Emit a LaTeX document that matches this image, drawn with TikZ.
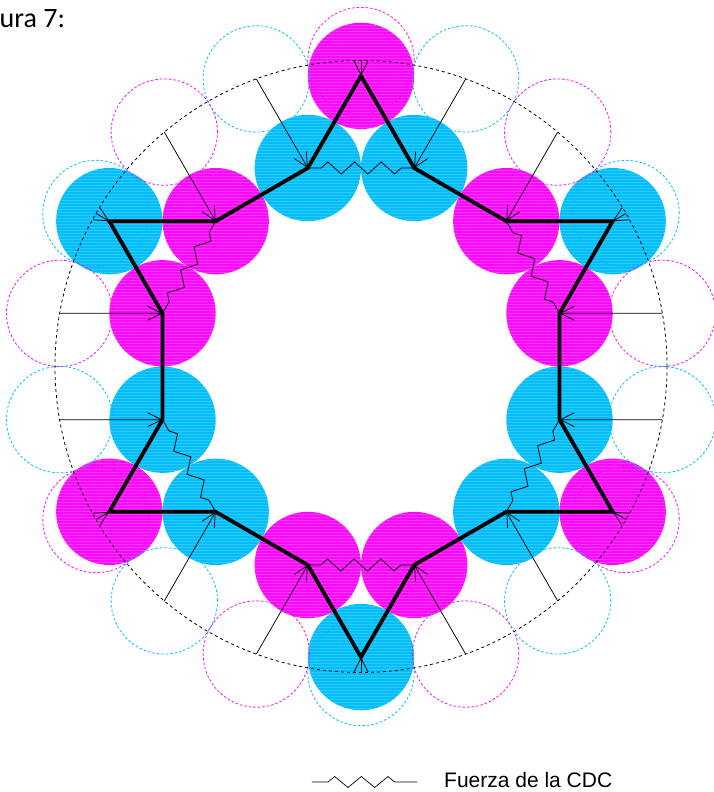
\documentclass[tikz,border=0pt]{standalone}
\usepackage{fontspec}
\setmainfont{Liberation Sans}
\newfontfamily\calib{Carlito}
\usetikzlibrary{arrows.meta,decorations.pathmorphing,calc}
\definecolor{mag}{RGB}{250,10,250}
\definecolor{cya}{RGB}{0,190,250}
\begin{document}
\begin{tikzpicture}[x=1pt,y=1pt,
  ball/.style={circle, minimum size=106.4pt, inner sep=0pt, draw=none,
    path picture={\foreach \yy in {-54,-51,...,54}
      \draw[white, opacity=0.18, line width=0.7pt]
        ([xshift=-60pt,yshift=\yy pt]path picture bounding box.center) -- ++(120pt,0);}},
  ghost/.style={circle, minimum size=106.4pt, inner sep=0pt, line width=0.8pt,
    dash pattern=on 2.5pt off 2pt},
  bigring/.style={draw=black, line width=0.8pt, dash pattern=on 3pt off 3pt},
  star/.style={line width=3.8pt, line join=miter},
  force/.style={line width=0.75pt, -{Straight Barb[length=14pt,width=14pt,line width=0.75pt]}},
  spring/.style={line width=0.8pt, decorate,
    decoration={zigzag, segment length=26.67pt, amplitude=6pt, pre length=13.4pt, post length=11.6pt}},
  label/.style={inner sep=0pt, anchor=base west}
]
\useasboundingbox (-361,-425.5) rectangle (352,366.5);
% filled balls
\foreach \a/\c in {15/mag,45/mag,75/cya,105/cya,135/mag,165/mag,195/cya,225/cya,255/mag,285/mag,315/cya,345/cya}
  \node[ball, fill=\c] (I\a) at (\a:205.5) {};
\foreach \a/\c in {30/cya,90/mag,150/cya,210/mag,270/cya,330/mag}
  \node[ball, fill=\c] (O\a) at (\a:290.6) {};
% dashed displaced balls
\foreach \a/\c in {10/mag,30/cya,50/mag,70/cya,90/mag,110/cya,130/mag,150/cya,170/mag,190/cya,210/mag,230/cya,250/mag,270/cya,290/mag,310/cya,330/mag,350/cya}
  \node[ghost, draw=\c] (D\a) at (\a:306) {};
% big dashed circle
\coordinate (C) at (0,0);
\draw[bigring] (C) circle[radius=306];
% thick star
\draw[star] (O30.center) -- (I45.center) -- (I75.center) -- (O90.center) -- (I105.center) -- (I135.center)
  -- (O150.center) -- (I165.center) -- (I195.center) -- (O210.center) -- (I225.center) -- (I255.center)
  -- (O270.center) -- (I285.center) -- (I315.center) -- (O330.center) -- (I345.center) -- (I15.center) -- cycle;
% springs
\foreach \p/\q in {105/75,165/135,225/195,285/255,345/315,45/15}
  \draw[spring] (I\p.center) -- (I\q.center);
% forces
\foreach \d/\t in {110/105,130/135,170/165,190/195,230/225,250/255,290/285,310/315,350/345,10/15,50/45,70/75}
  \draw[force] (D\d.center) -- (I\t.center);
\foreach \a in {30,90,150,210,270,330}
  \draw[force] (D\a.center) -- (O\a.center);
% title
\node[label, font=\calib\fontsize{28}{32}\selectfont] (title) at (-361.5,338.8) {ura 7:};
% legend
\coordinate (L1) at (-49,-415.5);
\coordinate (L2) at (56,-415.5);
\draw[spring, line width=0.7pt, decoration={zigzag, segment length=26.67pt, amplitude=5.5pt, pre length=16pt, post length=12pt}] (L1) -- (L2);
\node[label, font=\fontsize{21}{25}\selectfont] (leg) at (83,-420.5) {Fuerza de la CDC};
\end{tikzpicture}
\end{document}
